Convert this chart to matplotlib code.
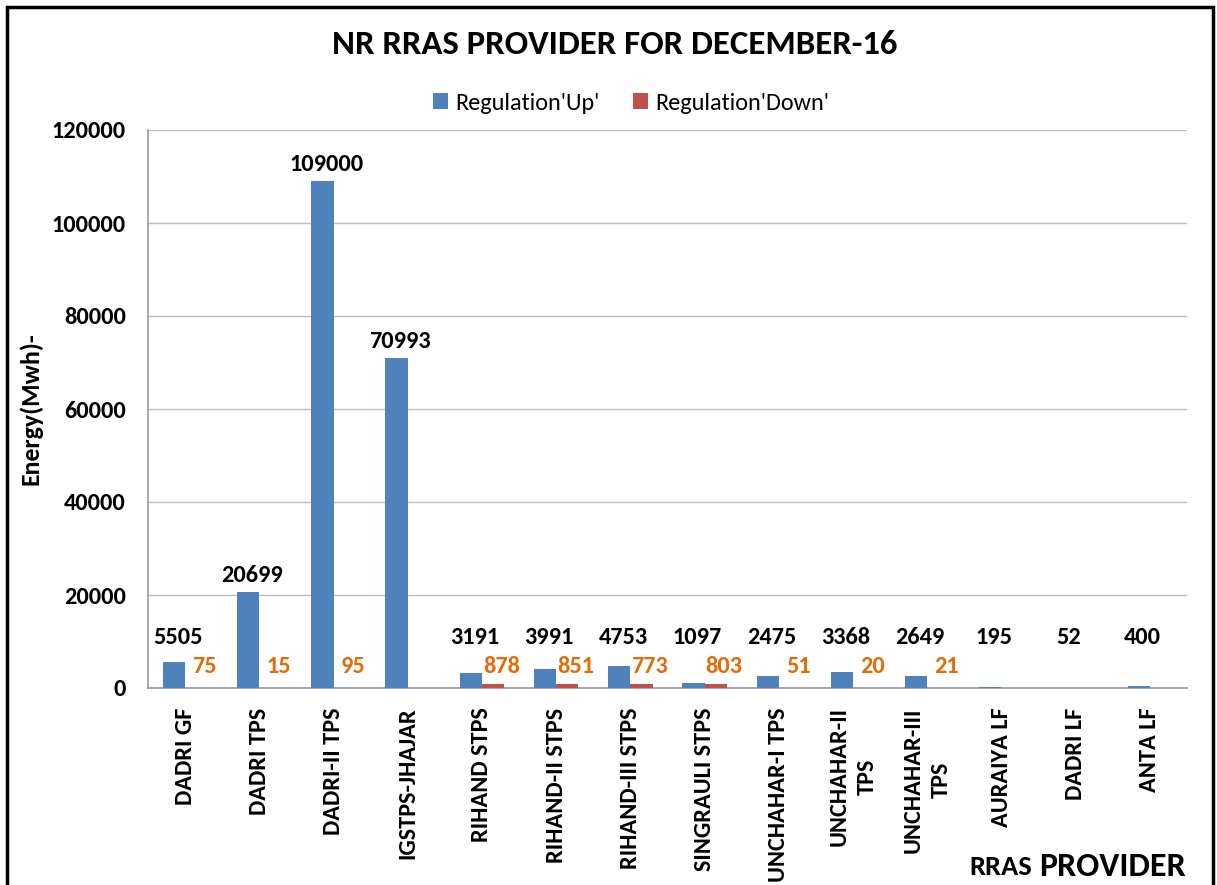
import numpy as np
import matplotlib.pyplot as plt
from matplotlib.patches import Rectangle

# Datos del grafico
proveedores = ['DADRI GF', 'DADRI TPS', 'DADRI-II TPS', 'IGSTPS-JHAJAR', 'RIHAND STPS',
               'RIHAND-II STPS', 'RIHAND-III STPS', 'SINGRAULI STPS', 'UNCHAHAR-I TPS',
               'UNCHAHAR-II\nTPS', 'UNCHAHAR-III\nTPS', 'AURAIYA LF', 'DADRI LF', 'ANTA LF']
reg_up = [5505, 20699, 109000, 70993, 3191, 3991, 4753, 1097, 2475, 3368, 2649, 195, 52, 400]
reg_down = [75, 15, 95, 0, 878, 851, 773, 803, 51, 20, 21, 0, 0, 0]
# etiquetas naranjas que aparecen en la grafica (None = sin etiqueta)
etiquetas_down = ['75', '15', '95', None, '878', '851', '773', '803', '51', '20', '21', None, None, None]

azul = '#4F81BD'
rojo = '#C0504D'
naranja = '#E36C09'
fuente = 'Carlito'

fig = plt.figure(figsize=(12.17, 8.85), dpi=100)
ax = fig.add_axes([148 / 1217, 1 - 688 / 885, (1187 - 148) / 1217, (688 - 130) / 885])

x = np.arange(len(proveedores))
ancho = 0.3
ax.bar(x - ancho / 2, reg_up, ancho, color=azul, label="Regulation'Up'", zorder=3)
ax.bar(x + ancho / 2, reg_down, ancho, color=rojo, label="Regulation'Down'", zorder=3)

ax.set_xlim(-0.5, len(proveedores) - 0.5)
ax.set_ylim(0, 120000)
ax.set_yticks(np.arange(0, 120001, 20000))
ax.set_yticklabels([str(v) for v in range(0, 120001, 20000)], fontfamily=fuente,
                   fontweight='bold', fontsize=17.5)
ax.set_xticks(x)
ax.set_xticklabels(proveedores, rotation=90, fontfamily=fuente, fontweight='bold',
                   fontsize=17.5, va='top', ha='center', linespacing=1.45)
ax.tick_params(axis='both', length=0)
ax.tick_params(axis='y', pad=16)
ax.tick_params(axis='x', pad=14)

ax.grid(axis='y', color='#BFBFBF', linewidth=1, zorder=0)
for lado in ['top', 'right']:
    ax.spines[lado].set_visible(False)
for lado in ['left', 'bottom']:
    ax.spines[lado].set_color('#9A9A9A')
    ax.spines[lado].set_linewidth(1.2)

# Etiquetas de valores
for i, v in enumerate(reg_up):
    y = max(v + 3500, 10800)
    ax.text(x[i] - 0.1, y, str(v), ha='center', va='center', fontfamily=fuente,
            fontweight='bold', fontsize=17.5, color='black', zorder=4)
for i, t in enumerate(etiquetas_down):
    if t is not None:
        ax.text(x[i] + 0.26, 4700, t, ha='center', va='center', fontfamily=fuente,
                fontweight='bold', fontsize=17.5, color=naranja, zorder=4)

ax.set_ylabel('Energy(Mwh)-', fontfamily=fuente, fontweight='bold', fontsize=18.5)
ax.yaxis.set_label_coords(-106 / 1039, 0.5)

fig.text(615 / 1217, 1 - 45 / 885, 'NR RRAS PROVIDER FOR DECEMBER-16', ha='center', va='center',
         fontfamily=fuente, fontweight='bold', fontsize=25)
fig.text(1186 / 1217, 1 - 866 / 885, 'PROVIDER', ha='right', va='center',
         fontfamily=fuente, fontweight='bold', fontsize=24.5)
fig.text(1032 / 1217, 1 - 867 / 885, 'RRAS', ha='right', va='center',
         fontfamily=fuente, fontweight='bold', fontsize=20.5)

leg = fig.legend(loc='center', bbox_to_anchor=(631 / 1217, 1 - 103 / 885), ncol=2,
                 frameon=False, prop={'family': fuente, 'size': 17.5},
                 handlelength=0.6, handleheight=0.6, columnspacing=1.4, handletextpad=0.3)

# Marco exterior
fig.patches.append(Rectangle((7 / 1217, -0.01), (1213 - 7) / 1217, 1 - 7 / 885 + 0.01,
                             transform=fig.transFigure, fill=False, edgecolor='black',
                             linewidth=2.5))

fig.savefig('out.png', dpi=100)
